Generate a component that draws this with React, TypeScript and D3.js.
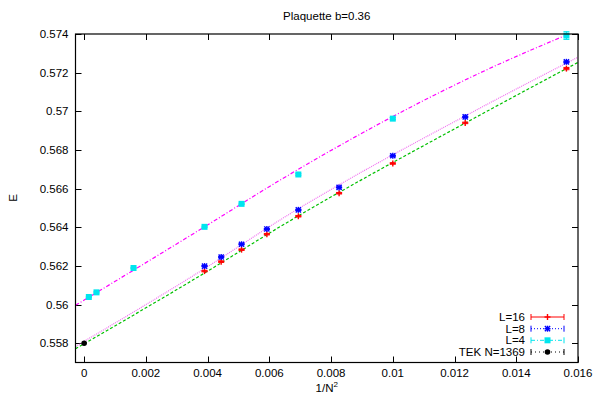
import { useEffect, useRef } from 'react';
import * as d3 from 'd3';

// 1/N^2 positions and plaquette energies
const l16X = [0.0039, 0.00444, 0.0051, 0.00592, 0.00694, 0.00826, 0.01, 0.012346, 0.015625];
const l16E = [0.56173, 0.56222, 0.56284, 0.56364, 0.56457, 0.56576, 0.5673, 0.5694, 0.57221];
const l16Err = [0.00004, 0.00004, 0.00004, 0.00004, 0.00004, 0.00004, 0.00004, 0.00004, 0.00006];

const l8X = [0.0039, 0.00444, 0.0051, 0.00592, 0.00694, 0.00826, 0.01, 0.012346, 0.015625];
const l8E = [0.56199, 0.56246, 0.56312, 0.56391, 0.5649, 0.56606, 0.5677, 0.56971, 0.57256];
const l8Err = [0.00003, 0.00003, 0.00003, 0.00003, 0.00003, 0.00003, 0.00003, 0.00003, 0.00004];

const l4X = [0.000152, 0.0004, 0.0016, 0.0039, 0.0051, 0.00694, 0.01, 0.015625];
const l4E = [0.56039, 0.56063, 0.56189, 0.56402, 0.56521, 0.56673, 0.56962, 0.57392];
const l4Err = [0.00003, 0.00003, 0.00003, 0.00003, 0.00003, 0.00004, 0.00005, 0.0002];

const tekX = [0];
const tekE = [0.558];

// fitted curves
const fitX = [-0.00028, 0.0039, 0.00635, 0.01283, 0.016];
const fitL4 = [0.55996, 0.56402, 0.56644, 0.57199, 0.5742];
const fitL8 = [0.55783, 0.56186, 0.56438, 0.57017, 0.5728];
const fitL16 = [0.55771, 0.56163, 0.56403, 0.56981, 0.57253];

const xTicks = [0, 0.002, 0.004, 0.006, 0.008, 0.01, 0.012, 0.014, 0.016];
const yTicks = [0.558, 0.56, 0.562, 0.564, 0.566, 0.568, 0.57, 0.572, 0.574];

const legendLabels = ['L=16', 'L=8', 'L=4', 'TEK N=1369'];

export default function App() {
  const svgRef = useRef<SVGSVGElement>(null);

  useEffect(() => {
    if (!svgRef.current) return;
    const svg = d3.select(svgRef.current);
    svg.selectAll('*').remove();

    const font = '"Liberation Sans", Arial, Helvetica, sans-serif';
    const fs = '11.5px';
    const left = 75.5;
    const right = 578;
    const top = 34;
    const bottom = 362.5;

    const x = d3.scaleLinear().domain([-0.00028, 0.016]).range([left, right]);
    const y = d3.scaleLinear().domain([0.557, 0.574]).range([bottom, top]);

    svg.append('defs').append('clipPath').attr('id', 'plotclip')
      .append('rect')
      .attr('x', left).attr('y', top)
      .attr('width', right - left).attr('height', bottom - top);

    // Ticks (mirrored, inward)
    const tk = 6;
    const ticks = svg.append('g').attr('stroke', '#000').attr('stroke-width', 1);
    xTicks.forEach((t) => {
      const px = Math.round(x(t)) + 0.5;
      ticks.append('line').attr('x1', px).attr('x2', px).attr('y1', bottom).attr('y2', bottom - tk);
      ticks.append('line').attr('x1', px).attr('x2', px).attr('y1', top).attr('y2', top + tk);
    });
    yTicks.forEach((t) => {
      const py = Math.round(y(t)) + 0.5;
      ticks.append('line').attr('x1', left).attr('x2', left + tk).attr('y1', py).attr('y2', py);
      ticks.append('line').attr('x1', right).attr('x2', right - tk).attr('y1', py).attr('y2', py);
    });

    // Tick labels
    svg.append('g')
      .selectAll('text')
      .data(xTicks)
      .join('text')
      .attr('x', (d) => x(d))
      .attr('y', 377)
      .attr('text-anchor', 'middle')
      .attr('font-family', font)
      .attr('font-size', fs)
      .text((d) => String(Number(d.toFixed(3))));

    svg.append('g')
      .selectAll('text')
      .data(yTicks)
      .join('text')
      .attr('x', 68.5)
      .attr('y', (d) => y(d) + 4)
      .attr('text-anchor', 'end')
      .attr('font-family', font)
      .attr('font-size', fs)
      .text((d) => String(Number(d.toFixed(3))));

    // Fit curves
    const fitLine = d3.line<number>()
      .x((_, i) => x(fitX[i]))
      .y((d) => y(d))
      .curve(d3.curveMonotoneX);

    const fits = svg.append('g').attr('clip-path', 'url(#plotclip)').attr('fill', 'none');
    fits.append('path').attr('d', fitLine(fitL16))
      .attr('stroke', '#00c000').attr('stroke-width', 1.2).attr('stroke-dasharray', '3,2');
    fits.append('path').attr('d', fitLine(fitL8))
      .attr('stroke', '#f070f0').attr('stroke-width', 1.2).attr('stroke-dasharray', '1,1');
    fits.append('path').attr('d', fitLine(fitL4))
      .attr('stroke', '#ff00ff').attr('stroke-width', 1.2).attr('stroke-dasharray', '4,2,1,2');

    // Marker helpers
    const drawPlus = (g: any, cx: number, cy: number, color: string) => {
      g.append('line').attr('x1', cx - 3).attr('x2', cx + 3).attr('y1', cy).attr('y2', cy)
        .attr('stroke', color).attr('stroke-width', 1.4);
      g.append('line').attr('x1', cx).attr('x2', cx).attr('y1', cy - 3).attr('y2', cy + 3)
        .attr('stroke', color).attr('stroke-width', 1.4);
    };
    const drawStar = (g: any, cx: number, cy: number, color: string) => {
      drawPlus(g, cx, cy, color);
      g.append('line').attr('x1', cx - 2.6).attr('x2', cx + 2.6).attr('y1', cy - 2.6).attr('y2', cy + 2.6)
        .attr('stroke', color).attr('stroke-width', 1.4);
      g.append('line').attr('x1', cx - 2.6).attr('x2', cx + 2.6).attr('y1', cy + 2.6).attr('y2', cy - 2.6)
        .attr('stroke', color).attr('stroke-width', 1.4);
    };
    const drawSquare = (g: any, cx: number, cy: number, color: string) => {
      g.append('rect').attr('x', cx - 3).attr('y', cy - 3).attr('width', 6).attr('height', 6)
        .attr('fill', color);
    };
    const drawCircle = (g: any, cx: number, cy: number, color: string) => {
      g.append('circle').attr('cx', cx).attr('cy', cy).attr('r', 2.8).attr('fill', color);
    };
    const drawErr = (g: any, cx: number, y0: number, y1: number, color: string) => {
      g.append('line').attr('x1', cx).attr('x2', cx).attr('y1', y0).attr('y2', y1)
        .attr('stroke', color).attr('stroke-width', 1);
      [y0, y1].forEach((yy) => g.append('line').attr('x1', cx - 3).attr('x2', cx + 3)
        .attr('y1', yy).attr('y2', yy).attr('stroke', color).attr('stroke-width', 1));
    };

    const pts = svg.append('g');
    const series = [
      { xs: l16X, es: l16E, err: l16Err, color: '#ff0000', mark: drawPlus },
      { xs: l8X, es: l8E, err: l8Err, color: '#0000ff', mark: drawStar },
      { xs: l4X, es: l4E, err: l4Err, color: '#00e5ee', mark: drawSquare },
      { xs: tekX, es: tekE, err: [0], color: '#000000', mark: drawCircle },
    ];
    series.forEach((s) => {
      s.xs.forEach((xv, i) => {
        const cx = x(xv);
        const cy = y(s.es[i]);
        if (s.err[i] > 0) drawErr(pts, cx, y(s.es[i] - s.err[i]), y(s.es[i] + s.err[i]), s.color);
        s.mark(pts, cx, cy, s.color);
      });
    });

    // Legend
    const lg = svg.append('g');
    const legendY = [317, 328.7, 340.3, 352];
    const dashes = ['none', '1,2', '4,2,1,2', '1,3'];
    legendLabels.forEach((lab, i) => {
      const s = series[i];
      const ly = legendY[i];
      lg.append('text')
        .attr('x', 525)
        .attr('y', ly + 4)
        .attr('text-anchor', 'end')
        .attr('font-family', font)
        .attr('font-size', fs)
        .text(lab);
      lg.append('line').attr('x1', 531).attr('x2', 564).attr('y1', ly).attr('y2', ly)
        .attr('stroke', s.color).attr('stroke-width', 1)
        .attr('stroke-dasharray', dashes[i]);
      [531, 564].forEach((ex) => lg.append('line').attr('x1', ex).attr('x2', ex)
        .attr('y1', ly - 3).attr('y2', ly + 3).attr('stroke', s.color).attr('stroke-width', 1));
      s.mark(lg, 547.5, ly, s.color);
    });

    // Frame
    svg.append('rect')
      .attr('x', left).attr('y', top)
      .attr('width', right - left).attr('height', bottom - top)
      .attr('fill', 'none').attr('stroke', '#000').attr('stroke-width', 1.2);

    // Title and axis labels
    svg.append('text')
      .attr('x', (left + right) / 2)
      .attr('y', 20)
      .attr('text-anchor', 'middle')
      .attr('font-family', font)
      .attr('font-size', fs)
      .text('Plaquette b=0.36');

    const xl = svg.append('text')
      .attr('x', (left + right) / 2)
      .attr('y', 392)
      .attr('text-anchor', 'middle')
      .attr('font-family', font)
      .attr('font-size', fs);
    xl.append('tspan').text('1/N');
    xl.append('tspan').attr('dy', -5).attr('font-size', '8px').text('2');

    svg.append('text')
      .attr('transform', 'translate(17,198) rotate(-90)')
      .attr('text-anchor', 'middle')
      .attr('font-family', font)
      .attr('font-size', fs)
      .text('E');
  }, []);

  return (
    <svg
      ref={svgRef}
      width={595}
      height={397}
      style={{ position: 'absolute', left: 0, top: 0, background: '#fff' }}
    />
  );
}
